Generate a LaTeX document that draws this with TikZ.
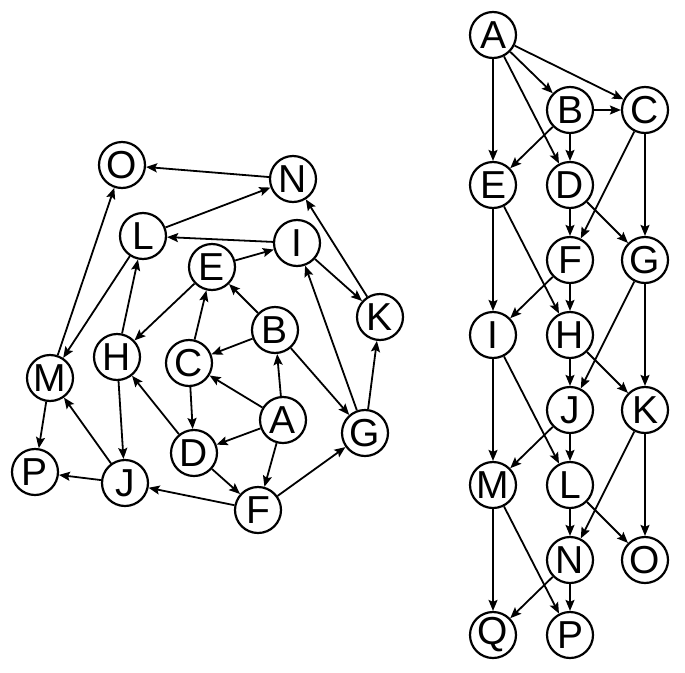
\documentclass[tikz,border=0pt]{standalone}
\usepackage{fontspec}
\setmainfont{Liberation Sans}
\usetikzlibrary{arrows.meta}

\begin{document}
\begin{tikzpicture}[x=1pt, y=-1pt,
  vertex/.style={circle, draw, line width=2.2pt, minimum size=46pt, inner sep=0pt,
    font=\fontsize{39}{42}\selectfont},
  arc/.style={draw, line width=1.8pt, -{Stealth[length=11pt, width=9pt, inset=2pt]}}]
\useasboundingbox (0,0) rectangle (685,672);
% left drawing
\node [vertex] (lO) at (122,165) {O};
\node [vertex] (lN) at (293,179) {N};
\node [vertex] (lL) at (143,236) {L};
\node [vertex] (lI) at (297,243) {I};
\node [vertex] (lE) at (212,267) {E};
\node [vertex] (lK) at (380,317) {K};
\node [vertex] (lB) at (275,330) {B};
\node [vertex] (lH) at (117,357) {H};
\node [vertex] (lC) at (189,363) {C};
\node [vertex] (lM) at (50,378) {M};
\node [vertex] (lA) at (283,420) {A};
\node [vertex] (lG) at (365,433) {G};
\node [vertex] (lD) at (194,453) {D};
\node [vertex] (lP) at (35,472) {P};
\node [vertex] (lJ) at (125,483) {J};
\node [vertex] (lF) at (258,510) {F};
\path [arc] (lA) edge (lB) edge (lC) edge (lD) edge (lF);
\path [arc] (lB) edge (lC) edge (lE) edge (lG);
\path [arc] (lC) edge (lE) edge (lD);
\path [arc] (lD) edge (lH) edge (lF);
\path [arc] (lE) edge (lI) edge (lH);
\path [arc] (lF) edge (lJ) edge (lG);
\path [arc] (lG) edge (lI) edge (lK);
\path [arc] (lH) edge (lL) edge (lJ);
\path [arc] (lI) edge (lL) edge (lK);
\path [arc] (lJ) edge (lM) edge (lP);
\path [arc] (lK) edge (lN);
\path [arc] (lL) edge (lN) edge (lM);
\path [arc] (lM) edge (lO) edge (lP);
\path [arc] (lN) edge (lO);
% right drawing
\node [vertex] (rA) at (493,35) {A};
\node [vertex] (rB) at (570,110) {B};
\node [vertex] (rC) at (645,110) {C};
\node [vertex] (rE) at (493,185) {E};
\node [vertex] (rD) at (570,185) {D};
\node [vertex] (rF) at (570,260) {F};
\node [vertex] (rG) at (645,260) {G};
\node [vertex] (rI) at (493,335) {I};
\node [vertex] (rH) at (570,335) {H};
\node [vertex] (rJ) at (570,410) {J};
\node [vertex] (rK) at (645,410) {K};
\node [vertex] (rM) at (493,485) {M};
\node [vertex] (rL) at (570,485) {L};
\node [vertex] (rN) at (570,560) {N};
\node [vertex] (rO) at (645,560) {O};
\node [vertex] (rQ) at (493,635) {Q};
\node [vertex] (rP) at (570,635) {P};
\path [arc] (rA) edge (rB) edge (rC) edge (rD) edge (rE);
\path [arc] (rB) edge (rC) edge (rD) edge (rE);
\path [arc] (rC) edge (rF) edge (rG);
\path [arc] (rD) edge (rF) edge (rG);
\path [arc] (rE) edge (rI) edge (rH);
\path [arc] (rF) edge (rI) edge (rH);
\path [arc] (rG) edge (rJ) edge (rK);
\path [arc] (rH) edge (rJ) edge (rK);
\path [arc] (rI) edge (rM) edge (rL);
\path [arc] (rJ) edge (rM) edge (rL);
\path [arc] (rK) edge (rN) edge (rO);
\path [arc] (rL) edge (rN) edge (rO);
\path [arc] (rM) edge (rQ) edge (rP);
\path [arc] (rN) edge (rQ) edge (rP);
\end{tikzpicture}
\end{document}
